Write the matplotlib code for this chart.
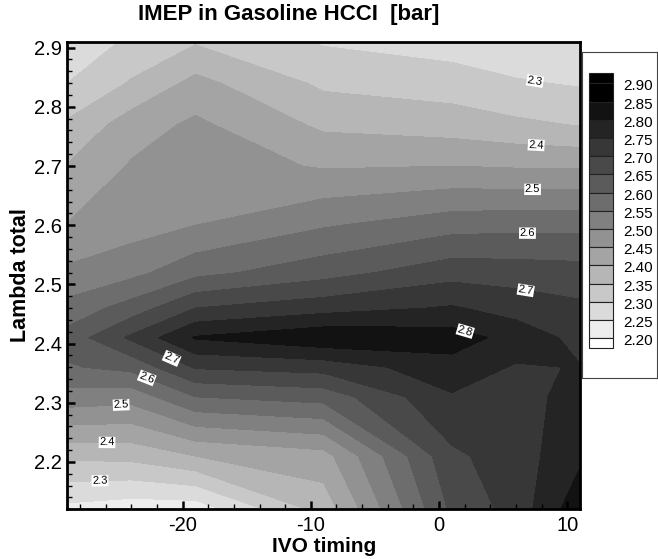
import numpy as np
import matplotlib
matplotlib.use("Agg")
import matplotlib.pyplot as plt
from matplotlib.patches import Rectangle
from matplotlib.ticker import MultipleLocator

plt.rcParams['font.family'] = ['Liberation Sans', 'DejaVu Sans']
plt.rcParams['axes.unicode_minus'] = False

# ---- data ----
ivo = [-29, -24, -19, -9, 1, 6, 11]
lam = [2.12, 2.21, 2.31, 2.36, 2.41, 2.46, 2.52, 2.60, 2.70, 2.77, 2.84, 2.91]
imep_m29 = [2.235, 2.36, 2.53, 2.595, 2.62, 2.567, 2.51, 2.452, 2.402, 2.358, 2.30, 2.26]
imep_m24 = [2.22, 2.365, 2.52, 2.615, 2.71, 2.622, 2.535, 2.478, 2.455, 2.425, 2.355, 2.31]
imep_m19 = [2.22, 2.40, 2.60, 2.705, 2.805, 2.70, 2.585, 2.50, 2.475, 2.46, 2.415, 2.345]
imep_m9 = [2.37, 2.43, 2.62, 2.72, 2.84, 2.73, 2.63, 2.545, 2.445, 2.39, 2.34, 2.295]
imep_p1 = [2.66, 2.69, 2.745, 2.78, 2.825, 2.755, 2.68, 2.58, 2.45, 2.375, 2.325, 2.275]
imep_p6 = [2.72, 2.725, 2.73, 2.745, 2.78, 2.73, 2.675, 2.585, 2.445, 2.36, 2.305, 2.265]
imep_p11 = [2.835, 2.79, 2.77, 2.752, 2.735, 2.71, 2.67, 2.585, 2.443, 2.347, 2.295, 2.25]

levels = [2.20, 2.25, 2.30, 2.35, 2.40, 2.45, 2.50, 2.55, 2.60, 2.65, 2.70, 2.75, 2.80, 2.85, 2.90]
label_levels = [2.3, 2.4, 2.5, 2.6, 2.7, 2.8]
label_pos = [(7.5, 2.845), (7.6, 2.744), (7.3, 2.664), (6.9, 2.589), (6.7, 2.482), (2.0, 2.418),
             (-26.45, 2.167), (-25.9, 2.233), (-24.8, 2.297), (-22.8, 2.342), (-20.9, 2.373)]

Z = np.array([imep_m29, imep_m24, imep_m19, imep_m9, imep_p1, imep_p6, imep_p11]).T
X, Y = np.meshgrid(ivo, lam)

vmin, vmax = levels[0], levels[-1]
def gray(v):
    g = (vmax - v) / (vmax - vmin)
    g = min(max(g, 0.0), 1.0)
    return (g, g, g)

band_colors = [gray(levels[i + 1]) for i in range(len(levels) - 1)]

fig = plt.figure(figsize=(6.58, 5.59), dpi=100)
ax = fig.add_axes([0.1023, 0.0889, 0.7792, 0.8365])

cf = ax.contourf(X, Y, Z, levels=levels, colors=band_colors, extend='both')
cf.cmap.set_under('white')
cf.cmap.set_over('black')

cs = ax.contour(X, Y, Z, levels=label_levels, colors='none', linewidths=0)
lbls = ax.clabel(cs, manual=label_pos, inline=False, fontsize=8, colors='k',
                 fmt=lambda v: f'{v:.1f}')
for t in lbls:
    t.set_bbox(dict(facecolor='white', edgecolor='none', pad=0.5))

ax.set_xlim(-29, 11)
ax.set_ylim(2.12, 2.91)
ax.xaxis.set_major_locator(MultipleLocator(10))
ax.xaxis.set_minor_locator(MultipleLocator(2))
ax.yaxis.set_major_locator(MultipleLocator(0.1))
ax.yaxis.set_minor_locator(MultipleLocator(0.02))
ax.tick_params(which='both', direction='in', top=False, right=False, labelsize=14.5)
ax.tick_params(axis='y', pad=4)
ax.tick_params(axis='x', pad=5)
ax.tick_params(which='major', length=6, width=1.8)
ax.tick_params(which='minor', length=3.5, width=1.0)
for sp in ax.spines.values():
    sp.set_linewidth(2)

ax.set_xlabel('IVO timing', fontsize=15, fontweight='bold', labelpad=1)
ax.set_ylabel('Lambda total', fontsize=15.5, fontweight='bold', labelpad=2)
fig.text(0.439, 0.974, 'IMEP in Gasoline HCCI  [bar]', fontsize=16, fontweight='bold',
         ha='center', va='center')

# ---- legend box (Tecplot style) ----
W, H = 658, 559
lx0, ly0, lx1, ly1 = 582, 52, 657, 378
lax = fig.add_axes([lx0 / W, 1 - ly1 / H, (lx1 - lx0) / W, (ly1 - ly0) / H])
lax.set_xlim(0, lx1 - lx0)
lax.set_ylim(ly1 - ly0, 0)
lax.set_xticks([])
lax.set_yticks([])
for sp in lax.spines.values():
    sp.set_linewidth(0.8)
    sp.set_color('#444444')

top_y, step = 83.4 - ly0, 18.2
sw_x0, sw_w = 589 - lx0, 24
rev = levels[::-1]
lax.add_patch(Rectangle((sw_x0, 73 - ly0), sw_w, top_y - (73 - ly0), facecolor='black',
                        edgecolor='#222222', lw=0.8))
for k, lv in enumerate(rev):
    yb = top_y + k * step
    last = k == len(rev) - 1
    h = (348 - ly0) - yb if last else step
    fc = 'white' if last else gray(lv)
    lax.add_patch(Rectangle((sw_x0, yb), sw_w, h, facecolor=fc, edgecolor='#222222', lw=0.8))
    lax.text(623 - lx0, yb + 3, f'{lv:.2f}', fontsize=11, va='center', ha='left')

fig.savefig('out.png', dpi=100)
